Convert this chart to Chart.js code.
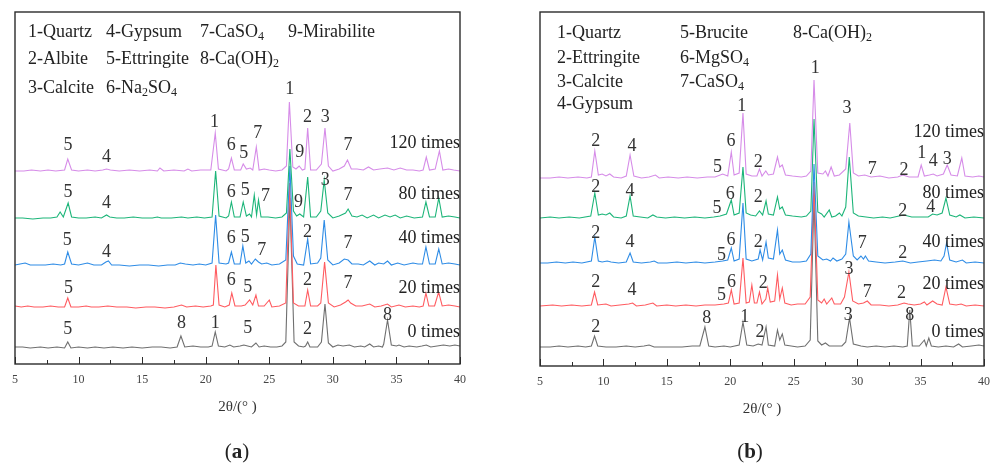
<!DOCTYPE html>
<html>
<head>
<meta charset="utf-8">
<script src="https://cdn.jsdelivr.net/npm/chart.js@4.4.9/dist/chart.umd.min.js"></script>
<style>
  html, body { margin: 0; padding: 0; background: #fff; }
  body { width: 992px; height: 470px; position: relative; overflow: hidden; font-family: "Liberation Serif", "Times New Roman", serif; color: #222; }
  .panel { position: absolute; top: 0; height: 470px; }
  #pa { left: 0; width: 496px; }
  #pb { left: 496px; width: 520px; }
  .leg { position: absolute; font-size: 18px; line-height: 20px; white-space: nowrap; }
  .leg sub { font-size: 12px; vertical-align: -3px; line-height: 0; }
  .cap { position: absolute; top: 439px; font-size: 21px; transform: translateX(-50%); }
  .cap b { font-weight: bold; }
</style>
</head>
<body>
<div class="panel" id="pa">
  <canvas id="chartA"></canvas>
  <div class="leg" style="left:28px;top:21px">1-Quartz</div>
  <div class="leg" style="left:106px;top:21px">4-Gypsum</div>
  <div class="leg" style="left:200px;top:21px">7-CaSO<sub>4</sub></div>
  <div class="leg" style="left:288px;top:21px">9-Mirabilite</div>
  <div class="leg" style="left:28px;top:48px">2-Albite</div>
  <div class="leg" style="left:106px;top:48px">5-Ettringite</div>
  <div class="leg" style="left:200px;top:48px">8-Ca(OH)<sub>2</sub></div>
  <div class="leg" style="left:28px;top:77px">3-Calcite</div>
  <div class="leg" style="left:106px;top:77px">6-Na<sub>2</sub>SO<sub>4</sub></div>
  <div class="cap" style="left:237px">(<b>a</b>)</div>
</div>
<div class="panel" id="pb">
  <canvas id="chartB"></canvas>
  <div class="leg" style="left:61px;top:22px">1-Quartz</div>
  <div class="leg" style="left:184px;top:22px">5-Brucite</div>
  <div class="leg" style="left:297px;top:22px">8-Ca(OH)<sub>2</sub></div>
  <div class="leg" style="left:61px;top:47px">2-Ettringite</div>
  <div class="leg" style="left:184px;top:47px">6-MgSO<sub>4</sub></div>
  <div class="leg" style="left:61px;top:71px">3-Calcite</div>
  <div class="leg" style="left:184px;top:71px">7-CaSO<sub>4</sub></div>
  <div class="leg" style="left:61px;top:93px">4-Gypsum</div>
  <div class="cap" style="left:254px">(<b>b</b>)</div>
</div>
<script>
// ---- patterns, sample (a): [2θ, intensity a.u.] ----
const a0 = [[5,1],[5.6,1],[6.2,0],[7,1],[7.6,0],[8.3,1],[8.9,0],[9.15,6],[9.4,0],[10,1],[10.7,0],[11.3,1],[12,0],[12.7,1],[13.5,0],[14.2,1],[15,0],[15.8,1],[16.5,1],[17.2,0],[17.75,1],[18.05,12],[18.35,1],[19,2],[19.6,1],[20.2,1],[20.5,2],[20.75,16],[21.0,2],[21.5,1],[21.9,3],[22.2,1],[22.7,2],[23.0,3],[23.3,2],[23.6,1],[23.95,5],[24.2,1],[24.6,2],[25.1,1],[25.6,1],[26.0,2],[26.3,6],[26.62,150],[26.95,6],[27.3,2],[27.7,1],[27.85,2],[28.02,6],[28.2,1],[28.8,1],[29.1,6],[29.38,44],[29.65,5],[30,1],[30.4,3],[30.8,2],[31.3,3],[31.7,1],[32.2,2],[32.5,1],[32.9,4],[33.2,1],[33.6,2],[33.9,1],[34.0,4],[34.3,28],[34.6,3],[35.0,2],[35.2,3],[35.6,1],[36,2],[36.6,1],[37,2],[37.35,3],[37.7,1],[38.2,2],[38.7,3],[39.2,2],[39.6,3],[40,2]];
const a20 = [[5,2],[5.5,1],[6,2],[6.5,1],[7.2,1],[7.8,2],[8.4,1],[8.9,1],[9.15,10],[9.4,1],[10,1],[10.6,2],[11,1],[11.6,1],[12.3,2],[13,1],[13.8,1],[14.5,0],[15.3,1],[16,1],[16.8,0],[17.5,1],[18.1,3],[18.5,1],[19.2,2],[19.8,1],[20.4,2],[20.6,3],[20.8,43],[21.05,3],[21.5,1],[21.85,3],[22.05,15],[22.3,2],[22.8,2],[23.1,3],[23.45,8],[23.7,3],[23.95,13],[24.15,2],[24.6,2],[25.0,8],[25.2,1],[25.8,2],[26.3,5],[26.6,125],[26.9,5],[27.3,2],[27.8,2],[28.02,18],[28.25,2],[28.8,2],[29.05,5],[29.35,46],[29.65,5],[30.1,1],[30.6,3],[31.0,6],[31.2,8],[31.4,5],[31.8,2],[32.3,2],[32.9,4],[33.3,1],[33.8,2],[34.3,4],[34.6,1],[35.2,3],[35.7,1],[36.3,2],[36.8,1],[37.1,2],[37.32,15],[37.55,2],[38.0,2],[38.32,16],[38.6,2],[39.1,3],[39.6,2],[40,1]];
const a40 = [[5,1],[5.4,2],[5.8,3],[6.2,1],[6.8,1],[7.4,1],[8,2],[8.6,1],[8.9,2],[9.15,14],[9.45,2],[10,1],[10.7,3],[11.2,1],[11.8,1],[12.15,4],[12.35,5],[12.6,1],[13.2,1],[14,0],[14.8,1],[15.5,1],[16.3,0],[17,1],[17.6,1],[18.0,3],[18.4,2],[19,1],[19.5,2],[20,1],[20.5,3],[20.78,51],[21.05,3],[21.6,2],[21.8,3],[22.02,14],[22.25,2],[22.7,2],[22.92,20],[23.15,3],[23.4,5],[23.6,2],[23.9,7],[24.15,4],[24.4,2],[24.8,3],[25.2,1],[25.8,2],[26.3,6],[26.62,100],[26.9,10],[27.2,2],[27.7,1],[28.02,27],[28.25,2],[28.8,3],[29.05,8],[29.32,46],[29.6,6],[30,1],[30.5,3],[30.9,7],[31.2,6],[31.5,2],[32,2],[32.4,1],[32.9,5],[33.3,1],[33.6,3],[34.0,2],[34.3,5],[34.6,1],[35.1,3],[35.6,1],[36.3,3],[36.7,2],[37.05,2],[37.32,19],[37.6,2],[38.05,2],[38.33,17],[38.6,2],[39.1,3],[39.6,2],[40,1]];
const a80 = [[5,1],[5.6,1],[6.4,0],[7.2,1],[7.8,1],[8.3,2],[8.55,7],[8.8,2],[9.18,16],[9.45,2],[10,1],[10.6,1],[11.3,2],[11.8,1],[12.2,4],[12.45,2],[13,1],[13.6,1],[14.3,2],[15,1],[15.8,1],[16.2,2],[16.5,1],[17.3,1],[18.1,2],[18.6,1],[19.3,2],[19.9,1],[20.5,2],[20.78,48],[21.05,3],[21.6,1],[21.8,3],[22.02,17],[22.25,2],[22.7,2],[22.95,17],[23.2,3],[23.45,5],[23.6,2],[23.82,24],[24.0,4],[24.15,19],[24.35,2],[24.9,2],[25.5,1],[26.0,2],[26.35,6],[26.62,70],[26.9,8],[27.15,3],[27.4,5],[27.7,2],[28.02,42],[28.25,2],[28.7,2],[29.05,8],[29.32,39],[29.6,6],[30,1],[30.5,3],[31.0,6],[31.2,10],[31.5,3],[31.9,2],[32.3,4],[32.7,1],[33.2,4],[33.6,1],[34.1,4],[34.5,2],[34.9,4],[35.3,1],[35.8,3],[36.4,1],[37.05,2],[37.32,17],[37.6,2],[38.05,2],[38.33,21],[38.6,2],[39.1,3],[39.6,2],[40,1]];
const a120 = [[5,1],[5.7,1],[6.3,2],[7,1],[7.6,2],[8.2,1],[8.9,2],[9.15,13],[9.45,2],[10,1],[10.7,2],[11.3,1],[11.9,2],[12.2,3],[12.5,2],[13.2,1],[14,2],[14.8,1],[15.6,2],[16.2,1],[16.4,4],[16.7,1],[17.5,2],[18.3,1],[18.6,3],[18.9,1],[19.6,2],[20.4,2],[20.75,39],[21.0,3],[21.6,1],[21.8,3],[22.02,14],[22.25,2],[22.75,2],[22.95,8],[23.2,3],[23.5,4],[23.7,2],[23.98,25],[24.2,2],[24.6,3],[25.0,2],[25.5,1],[26.0,2],[26.35,6],[26.58,70],[26.85,5],[27.1,3],[27.35,6],[27.6,2],[27.8,3],[28.02,44],[28.25,2],[28.7,2],[29.1,8],[29.38,44],[29.65,6],[30,1],[30.5,3],[30.9,6],[31.15,12],[31.45,3],[31.9,3],[32.4,2],[32.8,5],[33.2,2],[33.7,3],[34.3,4],[34.8,2],[35.3,4],[35.8,2],[36.3,2],[36.8,1],[37.1,2],[37.35,15],[37.6,2],[38.05,3],[38.38,21],[38.65,2],[39.1,3],[39.5,2],[40,1]];

// ---- patterns, sample (b) ----
const b0 = [[5,1],[5.8,1],[6.5,2],[7.2,1],[8,2],[8.6,1],[9.05,2],[9.3,12],[9.55,2],[10.2,1],[11,1],[11.8,2],[12.5,1],[13.2,2],[13.6,3],[14,1],[14.7,1],[15.5,1],[16.2,1],[17.0,2],[17.6,2],[18.0,21],[18.3,2],[18.8,1],[19.5,2],[20.0,1],[20.7,3],[21.0,26],[21.3,3],[21.8,2],[22.2,4],[22.5,3],[22.82,21],[23.0,3],[23.5,2],[23.72,18],[23.9,8],[24.1,14],[24.3,3],[24.8,2],[25.3,1],[25.9,2],[26.3,8],[26.6,150],[26.9,7],[27.2,3],[27.5,5],[27.8,2],[28.3,2],[28.8,2],[29.1,6],[29.4,30],[29.7,4],[30.3,2],[30.8,1],[31.5,2],[32.2,1],[32.9,2],[33.6,1],[33.95,2],[34.15,38],[34.35,2],[34.9,2],[35.3,8],[35.45,2],[35.65,10],[35.85,2],[36.4,1],[37,2],[37.6,1],[38.0,4],[38.3,1],[39,2],[39.6,3],[40,2]];
const b20 = [[5,1],[6,2],[6.7,1],[7.5,2],[8.3,1],[9.05,2],[9.3,15],[9.55,2],[10.2,3],[10.6,1],[11.3,2],[12,3],[12.3,4],[12.6,1],[13.3,2],[13.9,4],[14.2,1],[15,2],[15.7,1],[16.5,2],[17.3,1],[18,2],[18.8,2],[19.5,3],[19.85,4],[20.08,17],[20.3,3],[20.7,4],[21.0,49],[21.25,4],[21.5,5],[21.7,22],[21.9,4],[22.1,4],[22.3,15],[22.5,3],[22.8,8],[22.95,19],[23.15,5],[23.5,6],[23.72,32],[23.9,8],[24.1,19],[24.3,4],[24.8,2],[25.3,3],[25.9,3],[26.3,10],[26.6,125],[26.9,7],[27.2,4],[27.4,8],[27.6,3],[28.0,9],[28.2,3],[28.7,3],[29.0,10],[29.35,35],[29.65,6],[30.1,3],[30.5,4],[30.8,6],[31.1,2],[31.8,2],[32.5,1],[33.2,2],[33.7,4],[34.0,3],[34.5,2],[35.0,3],[35.3,5],[35.5,2],[35.95,6],[36.3,3],[36.7,2],[37.0,20],[37.3,3],[37.8,2],[38.2,3],[38.6,1],[39.3,2],[40,1]];
const b40 = [[5,1],[5.6,1],[6.3,2],[7,1],[7.6,2],[8.3,1],[9.05,3],[9.32,27],[9.6,3],[9.9,2],[10.3,3],[10.6,2],[11.2,1],[11.8,2],[12.1,11],[12.35,2],[13,1],[13.7,2],[14.0,3],[14.3,1],[15,1],[15.8,2],[16.5,1],[17.3,2],[18,1],[18.8,2],[19.4,3],[19.8,4],[20.08,16],[20.3,3],[20.7,5],[21.0,61],[21.25,5],[21.7,3],[22.2,5],[22.35,14],[22.55,4],[22.82,22],[23.0,6],[23.4,5],[23.72,34],[23.9,10],[24.1,14],[24.35,4],[24.9,2],[25.5,2],[26.0,3],[26.35,10],[26.6,100],[26.9,8],[27.3,4],[27.6,5],[27.9,3],[28.1,6],[28.4,3],[28.8,5],[29.1,10],[29.35,42],[29.7,8],[30.0,4],[30.3,8],[30.5,5],[30.65,8],[30.9,3],[31.5,2],[32.2,1],[33,2],[33.6,3],[34.2,1],[34.8,2],[35.5,3],[36.1,4],[36.6,3],[36.85,8],[37.05,21],[37.3,4],[37.8,2],[38.3,4],[38.6,1],[39.3,2],[40,1]];
const b80 = [[5,1],[5.8,2],[6.5,1],[7.3,2],[8.1,1],[9.0,3],[9.32,26],[9.6,4],[9.9,5],[10.2,4],[10.5,6],[10.8,2],[11.4,1],[11.8,3],[12.1,23],[12.35,3],[12.9,2],[13.5,1],[13.9,4],[14.2,2],[14.9,1],[15.6,2],[16.4,1],[17.2,2],[18,1],[18.7,2],[19.2,3],[19.7,5],[20.08,19],[20.3,4],[20.7,6],[21.0,52],[21.25,6],[21.6,4],[22.0,3],[22.3,8],[22.55,4],[22.82,18],[23.0,5],[23.4,4],[23.72,22],[23.9,10],[24.1,12],[24.35,4],[24.9,3],[25.6,2],[26.0,3],[26.35,8],[26.6,100],[26.9,7],[27.2,5],[27.4,2],[27.8,9],[28.0,2],[28.3,3],[28.6,6],[28.8,3],[29.1,12],[29.38,62],[29.7,6],[30.1,3],[30.7,2],[31.3,1],[32,2],[32.6,1],[33.3,3],[33.7,4],[34.3,2],[34.9,2],[35.6,2],[35.95,5],[36.3,4],[36.7,6],[37.0,21],[37.3,4],[37.8,2],[38.1,4],[38.5,1],[39.2,2],[40,1]];
const b120 = [[5,1],[5.8,1],[6.5,2],[7.2,1],[8,2],[8.7,1],[9.05,2],[9.32,28],[9.6,4],[9.9,5],[10.2,3],[10.5,5],[10.8,2],[11.4,1],[11.8,3],[12.1,24],[12.4,3],[13,1],[13.6,2],[14.1,4],[14.4,1],[15.1,2],[15.9,1],[16.6,2],[17.4,1],[18.2,2],[18.8,2],[19.4,5],[19.8,3],[20.08,27],[20.3,4],[20.7,6],[21.0,66],[21.25,5],[21.7,3],[22.1,3],[22.3,10],[22.5,3],[22.8,8],[23.0,4],[23.4,5],[23.72,22],[23.9,12],[24.1,14],[24.35,4],[24.9,3],[25.6,2],[26.0,3],[26.35,8],[26.6,99],[26.9,6],[27.3,5],[27.5,8],[27.7,3],[27.95,12],[28.2,3],[28.6,4],[29.1,10],[29.42,56],[29.7,6],[30.1,3],[30.6,4],[31.1,2],[31.8,3],[32.5,1],[33.2,2],[33.6,4],[34.1,2],[34.8,2],[35.05,14],[35.3,3],[35.7,4],[36.0,5],[36.3,3],[36.8,5],[37.1,14],[37.4,4],[37.9,3],[38.25,21],[38.5,3],[39.1,2],[39.6,3],[40,2]];

// cycle counts and the vertical stacking of each pattern
const cycles = ['0 times', '20 times', '40 times', '80 times', '120 times'];
const shiftA = [16, 56, 98, 145, 192];
const shiftB = [18, 59, 102, 147, 187];
const colors = ['#6f6f6f', '#ff5b60', '#2e8ce6', '#1cb579', '#d68ce8'];

// phase marks: [2θ, height, number]
const marksA = [
  [9.17,219,'5'],[12.2,207,'4'],[20.7,242,'1'],[22.0,219,'6'],[23.0,211,'5'],[24.1,231,'7'],[26.6,275,'1'],[27.4,212,'9'],[28.0,247,'2'],[29.4,247,'3'],[31.2,219,'7'],
  [9.17,172,'5'],[12.2,161,'4'],[22.0,172,'6'],[23.1,174,'5'],[24.7,168,'7'],[27.3,162,'9'],[29.4,184,'3'],[31.2,169,'7'],
  [9.1,124,'5'],[12.2,112,'4'],[22.0,126,'6'],[23.1,127,'5'],[24.4,114,'7'],[28.0,132,'2'],[31.2,121,'7'],
  [9.2,76,'5'],[22.0,84,'6'],[23.3,77,'5'],[28.0,84,'2'],[31.2,81,'7'],
  [9.15,35,'5'],[18.1,41,'8'],[20.75,41,'1'],[23.3,36,'5'],[28.0,35,'2'],[34.3,49,'8']
];
const marksB = [
  [9.4,225,'2'],[12.25,220,'4'],[19.0,199,'5'],[20.05,225,'6'],[20.9,260,'1'],[22.2,204,'2'],[26.7,298,'1'],[29.2,258,'3'],[31.2,197,'7'],[33.7,196,'2'],[35.1,213,'1'],[36.0,205,'4'],[37.1,207,'3'],
  [9.4,179,'2'],[12.1,175,'4'],[18.95,158,'5'],[20.0,172,'6'],[22.2,169,'2'],[33.6,155,'2'],[35.8,159,'4'],
  [9.4,133,'2'],[12.1,124,'4'],[19.3,111,'5'],[20.05,126,'6'],[22.2,124,'2'],[30.4,123,'7'],[33.6,113,'2'],
  [9.4,84,'2'],[12.25,76,'4'],[19.3,71,'5'],[20.1,84,'6'],[22.6,83,'2'],[29.35,97,'3'],[30.8,74,'7'],[33.5,73,'2'],
  [9.4,39,'2'],[18.15,48,'8'],[21.15,49,'1'],[22.35,34,'2'],[29.3,51,'3'],[34.15,51,'8']
];
// vertical position of the "n times" captions
const captionA = [32, 76, 126, 170, 221];
const captionB = [34, 82, 124, 173, 234];

// frame, inward ticks, peak numbers and cycle captions
const xrdDecor = {
  id: 'xrdDecor',
  afterDatasetsDraw(chart, args, opts) {
    const {ctx, chartArea: ca, scales: {x, y}} = chart;
    ctx.save();
    ctx.strokeStyle = '#2b2b2b';
    ctx.lineWidth = 1.4;
    ctx.strokeRect(ca.left, ca.top, ca.right - ca.left, ca.bottom - ca.top);
    ctx.lineWidth = 1;
    ctx.beginPath();
    for (let v = 5; v <= 40; v += 2.5) {
      const px = Math.round(x.getPixelForValue(v)) + 0.5;
      const len = v % 5 === 0 ? 7 : 4;
      ctx.moveTo(px, ca.bottom);
      ctx.lineTo(px, ca.bottom - len);
    }
    ctx.stroke();
    ctx.fillStyle = '#333';
    ctx.font = '18px "Liberation Serif", serif';
    ctx.textAlign = 'center';
    ctx.textBaseline = 'middle';
    opts.marks.forEach(([t, h, s]) => ctx.fillText(s, x.getPixelForValue(t), y.getPixelForValue(h)));
    ctx.textAlign = 'right';
    ctx.fillStyle = '#222';
    opts.captions.forEach((h, i) => ctx.fillText(cycles[i], ca.right, y.getPixelForValue(h)));
    ctx.restore();
  }
};

function xrdChart(id, series, shift, marks, captions, pad, yMax) {
  return new Chart(document.getElementById(id), {
    type: 'line',
    data: {
      datasets: series.map((s, i) => ({
        label: cycles[i],
        data: s.map(([t, v]) => ({x: t, y: v + shift[i]})),
        borderColor: colors[i],
        borderWidth: 1.1,
        pointRadius: 0,
        tension: 0,
        fill: false,
        order: series.length - i   // longer exposure drawn over shorter
      }))
    },
    options: {
      responsive: true,
      maintainAspectRatio: false,
      animation: false,
      layout: {padding: pad},
      plugins: {
        legend: {display: false},
        tooltip: {enabled: false},
        xrdDecor: {marks, captions}
      },
      scales: {
        x: {
          type: 'linear',
          min: 5, max: 40,
          grid: {display: false, drawTicks: false},
          border: {display: false},
          ticks: {stepSize: 5, padding: 9, color: '#444', font: {family: '"Liberation Serif", serif', size: 12}},
          title: {display: true, text: '2θ/(° )', color: '#333', padding: {top: 4, bottom: 4}, font: {family: '"Liberation Serif", serif', size: 15}},
          afterFit(scale) { scale.height = 56; }
        },
        y: {display: false, min: 0, max: yMax}
      }
    },
    plugins: [xrdDecor]
  });
}

xrdChart('chartA', [a0, a20, a40, a80, a120], shiftA, marksA, captionA, {left: 15, right: 36, top: 12, bottom: 50}, 352);
xrdChart('chartB', [b0, b20, b40, b80, b120], shiftB, marksB, captionB, {left: 44, right: 32, top: 12, bottom: 48}, 354);
</script>
</body>
</html>
